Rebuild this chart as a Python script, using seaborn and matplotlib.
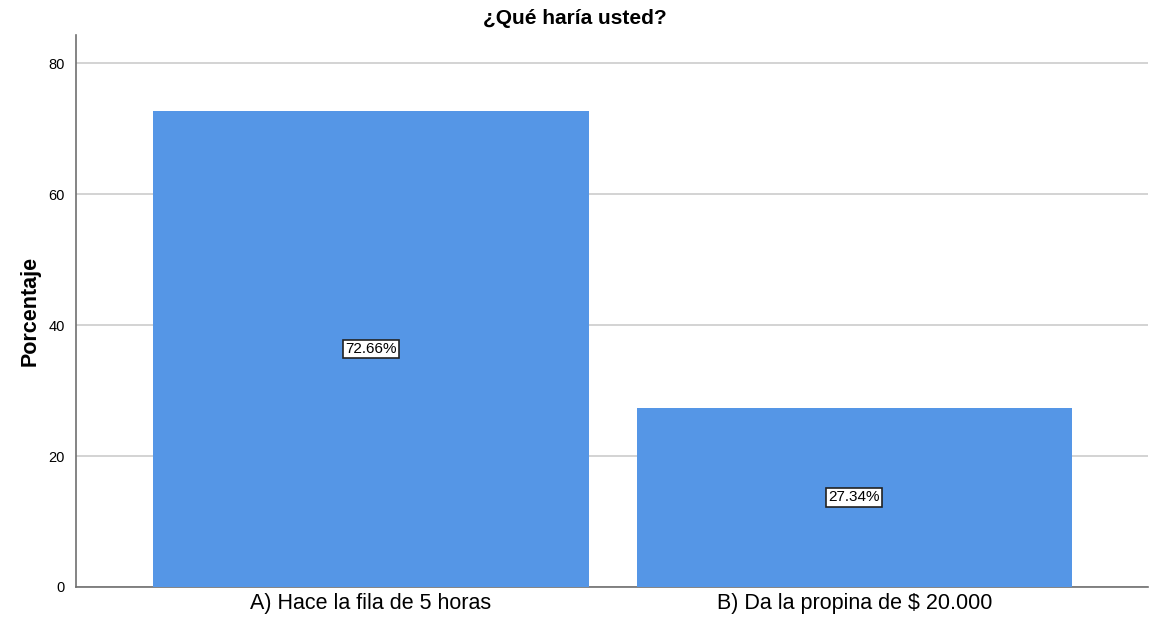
import pandas as pd
import seaborn as sns
import matplotlib.pyplot as plt

# Data
categories = ["A) Hace la fila de 5 horas", "B) Da la propina de $ 20.000"]
percentages = [72.66, 27.34]
title = "¿Qué haría usted?"

df = pd.DataFrame({"respuesta": categories, "porcentaje": percentages})

sns.set_style("white")
plt.rcParams['font.family'] = ['Liberation Sans', 'DejaVu Sans']
plt.rcParams['text.color'] = 'black'
plt.rcParams['axes.labelcolor'] = 'black'
plt.rcParams['xtick.color'] = 'black'
plt.rcParams['ytick.color'] = 'black'

fig = plt.figure(figsize=(11.49, 6.22), dpi=100)
ax = fig.add_axes([0.0661, 0.0563, 0.9330, 0.8874])

sns.barplot(data=df, x="respuesta", y="porcentaje", color="#5596E6",
            width=0.9, saturation=1, linewidth=0, ax=ax, zorder=3)

# Value labels in boxes at mid-height of bars
for i, v in enumerate(percentages):
    ax.text(i, v / 2, f"{v:.2f}%", ha="center", va="center", fontsize=11,
            color="black", zorder=5,
            bbox=dict(boxstyle="square,pad=0.15", fc="white", ec="#222222", lw=1.2))

ax.set_ylim(0, 84.3)
ax.set_xlim(-0.61, 1.607)
ax.set_yticks([0, 20, 40, 60, 80])
ax.yaxis.grid(True, color="#cccccc", lw=1.2, zorder=0)
ax.set_axisbelow(True)

for side in ["top", "right"]:
    ax.spines[side].set_visible(False)
for side in ["left", "bottom"]:
    ax.spines[side].set_color("#707070")
    ax.spines[side].set_linewidth(1.2)

ax.tick_params(axis="y", labelsize=10.5, length=0, pad=8)
ax.tick_params(axis="x", labelsize=15.5, length=0, pad=4)

ax.set_xlabel("")
ax.set_ylabel("Porcentaje", fontsize=15.5, fontweight="bold", labelpad=6)
fig.suptitle(title, x=0.5, y=0.985, fontsize=15, fontweight="bold")

plt.savefig("out.png", dpi=100)
plt.close()
